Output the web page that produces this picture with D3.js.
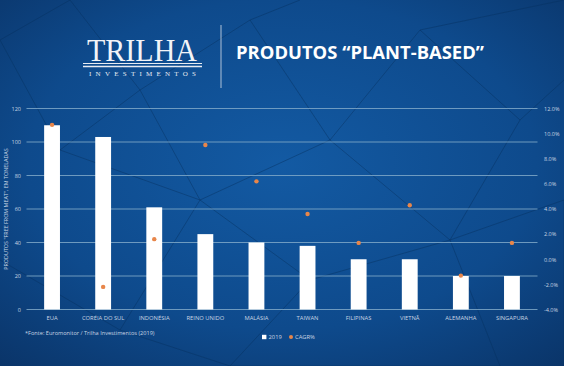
<!DOCTYPE html>
<html>
<head>
<meta charset="utf-8">
<script src="https://cdn.jsdelivr.net/npm/d3@7"></script>
<style>
  body { margin: 0; background: #0c447f; }
  svg { display: block; }
</style>
</head>
<body>
<svg id="chart"></svg>
<script>
const width = 564
const height = 366

// data
const countries = ['EUA', 'CORÉIA DO SUL', 'INDONÉSIA', 'REINO UNIDO', 'MALÁSIA', 'TAIWAN', 'FILIPINAS', 'VIETNÃ', 'ALEMANHA', 'SINGAPURA']
const volume2019 = [110, 103, 61, 45, 40, 38, 30, 30, 20, 20]
const cagr = [10.7, -2.2, 1.6, 9.1, 6.2, 3.6, 1.3, 4.3, -1.3, 1.3]
const leftTicks = [0, 20, 40, 60, 80, 100, 120]
const rightTicks = [-4, -2, 0, 2, 4, 6, 8, 10, 12]

const svg = d3.select('#chart')
  .attr('width', width)
  .attr('height', height)

// background gradient
const defs = svg.append('defs')
const bg = defs.append('radialGradient')
  .attr('id', 'bg')
  .attr('cx', '50%').attr('cy', '45%').attr('r', '75%')
bg.append('stop').attr('offset', '0%').attr('stop-color', '#135aa3')
bg.append('stop').attr('offset', '60%').attr('stop-color', '#0e4a8c')
bg.append('stop').attr('offset', '100%').attr('stop-color', '#0a3468')

svg.append('rect')
  .attr('width', width)
  .attr('height', height)
  .attr('fill', 'url(#bg)')

// faint triangle pattern
const pattern = [
  [[0, 40], [70, 0], [140, 90], [60, 150], [0, 40]],
  [[140, 90], [250, 20], [330, 140], [200, 200], [140, 90]],
  [[330, 140], [420, 30], [520, 120], [450, 240], [330, 140]],
  [[60, 150], [200, 200], [120, 330], [0, 260]],
  [[200, 200], [310, 280], [230, 366], [120, 330]],
  [[310, 280], [450, 240], [500, 366], [230, 366]],
  [[450, 240], [564, 200], [564, 366]],
  [[420, 30], [564, 0]],
  [[250, 20], [300, 0]],
  [[520, 120], [564, 80]]
]
svg.append('g')
  .selectAll('path')
  .data(pattern)
  .enter().append('path')
  .attr('d', d3.line())
  .attr('fill', 'none')
  .attr('stroke', '#06305f')
  .attr('stroke-opacity', 0.45)
  .attr('stroke-width', 1)

// header: logo + title
const logo = svg.append('g')
logo.append('text')
  .attr('x', 87).attr('y', 61)
  .attr('textLength', 110)
  .attr('lengthAdjust', 'spacingAndGlyphs')
  .attr('font-family', 'Liberation Serif, DejaVu Serif, serif')
  .attr('font-size', 32)
  .attr('fill', '#f2f4f8')
  .text('TRILHA')
logo.append('line')
  .attr('x1', 83).attr('x2', 202).attr('y1', 63.5).attr('y2', 63.5)
  .attr('stroke', '#e8ecf2').attr('stroke-width', 1)
logo.append('line')
  .attr('x1', 83).attr('x2', 202).attr('y1', 66.5).attr('y2', 66.5)
  .attr('stroke', '#e8ecf2').attr('stroke-width', 1.4)
logo.append('text')
  .attr('x', 89).attr('y', 76)
  .attr('textLength', 107)
  .attr('font-family', 'Liberation Serif, DejaVu Serif, serif')
  .attr('font-size', 7)
  .attr('fill', '#e8ecf2')
  .text('INVESTIMENTOS')

svg.append('line')
  .attr('x1', 221).attr('x2', 221).attr('y1', 25).attr('y2', 88)
  .attr('stroke', '#d8e0ea').attr('stroke-width', 0.8)

svg.append('text')
  .attr('x', 236).attr('y', 58.5)
  .attr('textLength', 248)
  .attr('lengthAdjust', 'spacingAndGlyphs')
  .attr('font-family', 'Open Sans, Noto Sans, sans-serif')
  .attr('font-weight', 'bold')
  .attr('font-size', 17)
  .attr('fill', '#ffffff')
  .text('PRODUTOS “PLANT-BASED”')

// chart area
const x = d3.scaleBand()
  .domain(countries)
  .range([26.5, 537.5])
  .paddingInner(0.69)
  .paddingOuter(0.345)

const y = d3.scaleLinear()
  .domain([0, 120])
  .range([309.5, 108.5])

const y2 = d3.scaleLinear()
  .domain([-4, 12])
  .range([309.5, 108.5])

const tickColor = '#c9d5e3'

// gridlines
svg.append('g')
  .selectAll('line')
  .data(leftTicks)
  .enter().append('line')
  .attr('x1', 26.5).attr('x2', 537.5)
  .attr('y1', d => y(d)).attr('y2', d => y(d))
  .attr('stroke', '#7fa8c8')
  .attr('stroke-opacity', 0.85)
  .attr('stroke-width', 1.2)

// left axis
const leftAxis = svg.append('g')
  .attr('transform', 'translate(21,0)')
  .call(d3.axisLeft(y).tickValues(leftTicks).tickSize(0).tickPadding(0))
leftAxis.select('.domain').remove()
leftAxis.selectAll('text')
  .attr('fill', tickColor)
  .attr('font-family', 'Open Sans, sans-serif')
  .attr('font-size', 5.5)

// right axis
const rightAxis = svg.append('g')
  .attr('transform', 'translate(544,0)')
  .call(d3.axisRight(y2).tickValues(rightTicks).tickSize(0).tickPadding(0)
    .tickFormat(d => d.toFixed(1) + '%'))
rightAxis.select('.domain').remove()
rightAxis.selectAll('text')
  .attr('fill', tickColor)
  .attr('font-family', 'Open Sans, sans-serif')
  .attr('font-size', 5.5)

// bottom labels
const bottomAxis = svg.append('g')
  .attr('transform', 'translate(0,316)')
  .call(d3.axisBottom(x).tickSize(0).tickPadding(0))
bottomAxis.select('.domain').remove()
bottomAxis.selectAll('text')
  .attr('fill', tickColor)
  .attr('font-family', 'Open Sans, sans-serif')
  .attr('font-size', 5.8)

// y axis title
svg.append('text')
  .attr('transform', 'translate(7.5,209) rotate(-90)')
  .attr('text-anchor', 'middle')
  .attr('fill', tickColor)
  .attr('font-family', 'Open Sans, sans-serif')
  .attr('font-size', 5.4)
  .text('PRODUTOS "FREE FROM MEAT", EM TONELADAS')

// bars
svg.append('g')
  .selectAll('rect')
  .data(countries)
  .enter().append('rect')
  .attr('x', d => x(d))
  .attr('width', x.bandwidth())
  .attr('y', (d, i) => y(volume2019[i]))
  .attr('height', (d, i) => y(0) - y(volume2019[i]))
  .attr('fill', '#ffffff')

// CAGR dots
svg.append('g')
  .selectAll('circle')
  .data(countries)
  .enter().append('circle')
  .attr('cx', d => x(d) + x.bandwidth() / 2)
  .attr('cy', (d, i) => y2(cagr[i]))
  .attr('r', 2.2)
  .attr('fill', '#e8864a')

// legend
const legend = svg.append('g').attr('transform', 'translate(262,337)')
legend.append('rect')
  .attr('x', 0).attr('y', -2.2).attr('width', 4.4).attr('height', 4.4)
  .attr('fill', '#ffffff')
legend.append('text')
  .attr('x', 6.5).attr('y', 2)
  .attr('fill', tickColor)
  .attr('font-family', 'Open Sans, sans-serif')
  .attr('font-size', 5.8)
  .text('2019')
legend.append('circle')
  .attr('cx', 29).attr('cy', 0).attr('r', 2)
  .attr('fill', '#e8864a')
legend.append('text')
  .attr('x', 33).attr('y', 2)
  .attr('fill', tickColor)
  .attr('font-family', 'Open Sans, sans-serif')
  .attr('font-size', 5.8)
  .text('CAGR%')

// source
svg.append('text')
  .attr('x', 25).attr('y', 335)
  .attr('fill', tickColor)
  .attr('font-family', 'Open Sans, sans-serif')
  .attr('font-size', 5.6)
  .text('*Fonte:  Euromonitor / Trilha Investimentos (2019)')
</script>
</body>
</html>
